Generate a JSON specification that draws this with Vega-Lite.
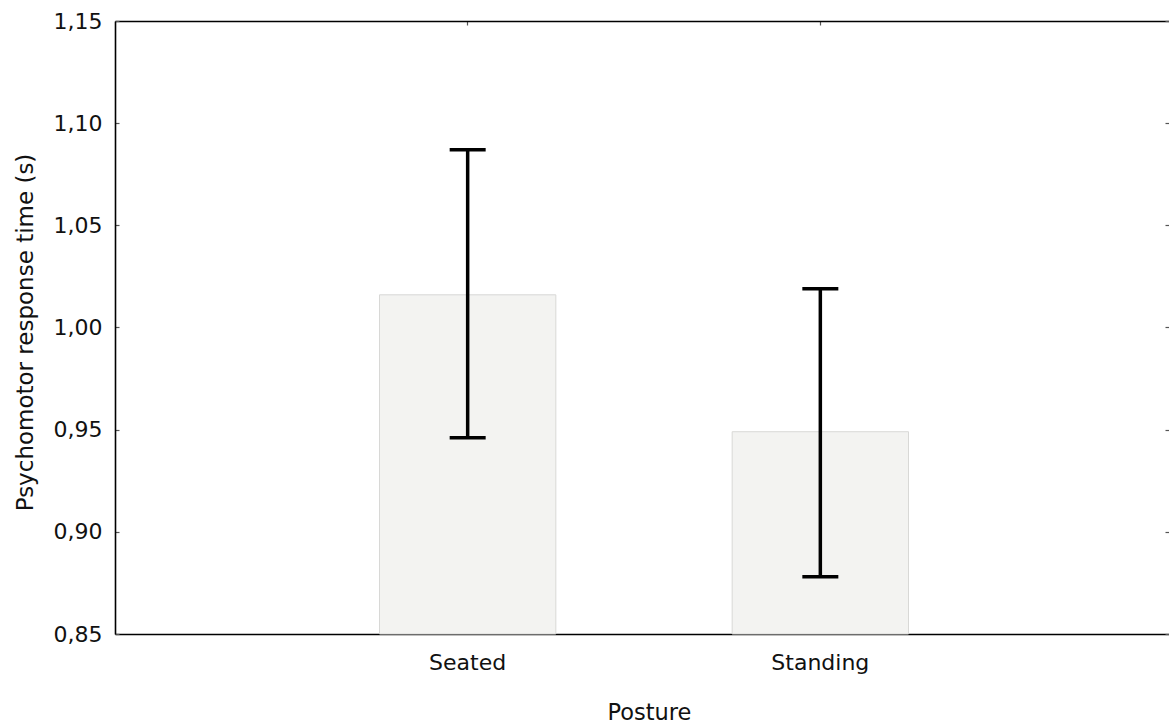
{
  "$schema": "https://vega.github.io/schema/vega-lite/v6.json",
  "width": 1054,
  "height": 613,
  "autosize": "none",
  "padding": {"left": 115, "top": 21, "right": 0, "bottom": 91},
  "background": "white",
  "config": {
    "font": "DejaVu Sans",
    "view": {"stroke": null},
    "axis": {"grid": false, "labelColor": "#111111", "titleColor": "#111111", "titleFontWeight": "normal", "domainColor": "#000000", "domainWidth": 1.6, "tickColor": "#555555", "tickWidth": 1.2}
  },
  "data": {
    "values": [
      {"Posture": "Seated", "mean": 1.016, "lo": 0.946, "hi": 1.087},
      {"Posture": "Standing", "mean": 0.949, "lo": 0.878, "hi": 1.019}
    ]
  },
  "layer": [
    {
      "mark": {"type": "bar", "fill": "#f3f3f1", "stroke": "#d8d8d6", "strokeWidth": 1},
      "encoding": {
        "x": {"field": "Posture", "type": "nominal", "sort": ["Seated", "Standing"],
          "scale": {"paddingInner": 0.5, "paddingOuter": 0.75, "range": [0, 1058]},
          "axis": {"orient": "bottom", "title": "Posture", "labelAngle": 0, "labelFontSize": 22, "labelPadding": 22, "labelBaseline": "top", "ticks": true, "tickSize": -4, "titleFontSize": 22.5, "titleBaseline": "alphabetic", "titleY": 85, "titleX": 534}},
        "y": {"field": "mean", "type": "quantitative",
          "scale": {"domain": [0.85, 1.15], "nice": false, "zero": false},
          "axis": {"orient": "left", "title": "Psychomotor response time (s)", "values": [0.85, 0.9, 0.95, 1.0, 1.05, 1.1, 1.15], "labelExpr": "replace(format(datum.value, '.2f'), '.', ',')", "labelFontSize": 22, "labelPadding": 17, "ticks": true, "tickSize": -4, "titleFontSize": 23, "titleBaseline": "alphabetic", "titleX": -83, "titleY": 311}},
        "y2": {"datum": 0.85}
      }
    },
    {
      "mark": {"type": "rule", "color": "#000000", "strokeWidth": 3.5},
      "encoding": {
        "x": {"field": "Posture", "type": "nominal", "sort": ["Seated", "Standing"],
          "axis": {"orient": "top", "title": null, "labels": false, "ticks": true, "tickSize": -4}},
        "y": {"field": "lo", "type": "quantitative",
          "axis": {"orient": "right", "title": null, "labels": false, "domain": false, "ticks": true, "tickSize": -4, "values": [0.85, 0.9, 0.95, 1.0, 1.05, 1.1, 1.15]}},
        "y2": {"field": "hi"}
      }
    },
    {
      "mark": {"type": "tick", "color": "#000000", "size": 36, "thickness": 3.5, "opacity": 1},
      "encoding": {
        "x": {"field": "Posture", "type": "nominal", "sort": ["Seated", "Standing"], "axis": null},
        "y": {"field": "lo", "type": "quantitative", "axis": null}
      }
    },
    {
      "mark": {"type": "tick", "color": "#000000", "size": 36, "thickness": 3.5, "opacity": 1},
      "encoding": {
        "x": {"field": "Posture", "type": "nominal", "sort": ["Seated", "Standing"], "axis": null},
        "y": {"field": "hi", "type": "quantitative", "axis": null}
      }
    }
  ],
  "resolve": {"axis": {"x": "independent", "y": "independent"}}
}
